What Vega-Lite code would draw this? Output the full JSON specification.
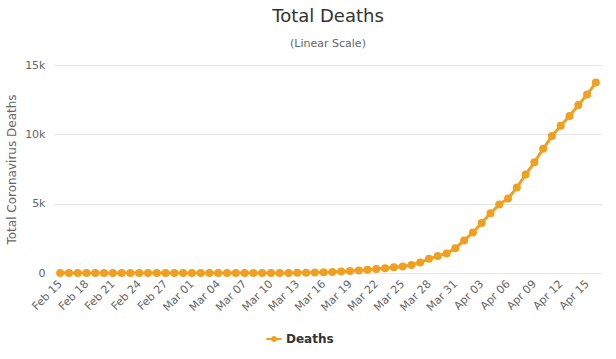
{
  "$schema": "https://vega.github.io/schema/vega-lite/v6.json",
  "width": 548,
  "height": 208,
  "padding": {"left": 5, "top": 8, "right": 10, "bottom": 6},
  "background": "white",
  "title": {
    "text": "Total Deaths",
    "subtitle": "(Linear Scale)",
    "fontSize": 18,
    "font": "DejaVu Sans",
    "fontWeight": "normal",
    "color": "#333333",
    "subtitleFont": "DejaVu Sans",
    "subtitleFontSize": 11,
    "subtitleColor": "#666666",
    "subtitlePadding": 12,
    "offset": 10,
    "anchor": "middle"
  },
  "config": {
    "view": {"stroke": null},
    "font": "DejaVu Sans"
  },
  "data": {
    "values": [
      {"date": "Feb 15", "deaths": 0}, {"date": "Feb 16", "deaths": 0}, {"date": "Feb 17", "deaths": 0},
      {"date": "Feb 18", "deaths": 0}, {"date": "Feb 19", "deaths": 0}, {"date": "Feb 20", "deaths": 0},
      {"date": "Feb 21", "deaths": 0}, {"date": "Feb 22", "deaths": 0}, {"date": "Feb 23", "deaths": 0},
      {"date": "Feb 24", "deaths": 0}, {"date": "Feb 25", "deaths": 0}, {"date": "Feb 26", "deaths": 0},
      {"date": "Feb 27", "deaths": 0}, {"date": "Feb 28", "deaths": 0}, {"date": "Feb 29", "deaths": 0},
      {"date": "Mar 01", "deaths": 0}, {"date": "Mar 02", "deaths": 0}, {"date": "Mar 03", "deaths": 0},
      {"date": "Mar 04", "deaths": 0}, {"date": "Mar 05", "deaths": 1}, {"date": "Mar 06", "deaths": 2},
      {"date": "Mar 07", "deaths": 2}, {"date": "Mar 08", "deaths": 3}, {"date": "Mar 09", "deaths": 4},
      {"date": "Mar 10", "deaths": 6}, {"date": "Mar 11", "deaths": 8}, {"date": "Mar 12", "deaths": 8},
      {"date": "Mar 13", "deaths": 10}, {"date": "Mar 14", "deaths": 21}, {"date": "Mar 15", "deaths": 35},
      {"date": "Mar 16", "deaths": 55}, {"date": "Mar 17", "deaths": 71}, {"date": "Mar 18", "deaths": 104},
      {"date": "Mar 19", "deaths": 144}, {"date": "Mar 20", "deaths": 177}, {"date": "Mar 21", "deaths": 233},
      {"date": "Mar 22", "deaths": 281}, {"date": "Mar 23", "deaths": 335}, {"date": "Mar 24", "deaths": 422},
      {"date": "Mar 25", "deaths": 465}, {"date": "Mar 26", "deaths": 578}, {"date": "Mar 27", "deaths": 759},
      {"date": "Mar 28", "deaths": 1019}, {"date": "Mar 29", "deaths": 1228}, {"date": "Mar 30", "deaths": 1408},
      {"date": "Mar 31", "deaths": 1789}, {"date": "Apr 01", "deaths": 2352}, {"date": "Apr 02", "deaths": 2921},
      {"date": "Apr 03", "deaths": 3605}, {"date": "Apr 04", "deaths": 4313}, {"date": "Apr 05", "deaths": 4934},
      {"date": "Apr 06", "deaths": 5373}, {"date": "Apr 07", "deaths": 6159}, {"date": "Apr 08", "deaths": 7097},
      {"date": "Apr 09", "deaths": 7978}, {"date": "Apr 10", "deaths": 8958}, {"date": "Apr 11", "deaths": 9875},
      {"date": "Apr 12", "deaths": 10612}, {"date": "Apr 13", "deaths": 11329}, {"date": "Apr 14", "deaths": 12107},
      {"date": "Apr 15", "deaths": 12868}, {"date": "Apr 16", "deaths": 13729}
    ]
  },
  "transform": [{"calculate": "'Deaths'", "as": "series"}],
  "mark": {"type": "line", "strokeWidth": 3, "point": {"filled": true, "size": 64, "opacity": 1}},
  "encoding": {
    "x": {
      "field": "date",
      "type": "ordinal",
      "sort": null,
      "scale": {"type": "point", "padding": 0.7},
      "axis": {
        "title": null,
        "values": ["Feb 15", "Feb 18", "Feb 21", "Feb 24", "Feb 27", "Mar 01", "Mar 04", "Mar 07", "Mar 10", "Mar 13", "Mar 16", "Mar 19", "Mar 22", "Mar 25", "Mar 28", "Mar 31", "Apr 03", "Apr 06", "Apr 09", "Apr 12", "Apr 15"],
        "labelAngle": -45,
        "labelAlign": "right",
        "labelBaseline": "middle",
        "labelFontSize": 11,
        "labelColor": "#666666",
        "labelPadding": 9,
        "ticks": false,
        "domain": false,
        "grid": false
      }
    },
    "y": {
      "field": "deaths",
      "type": "quantitative",
      "scale": {"domain": [0, 15000], "nice": false},
      "axis": {
        "title": "Total Coronavirus Deaths",
        "titleFontSize": 12,
        "titleFontWeight": "normal",
        "titleColor": "#666666",
        "titlePadding": 6,
        "values": [0, 5000, 10000, 15000],
        "labelExpr": "datum.value == 0 ? '0' : format(datum.value / 1000, 'd') + 'k'",
        "labelFontSize": 11,
        "labelColor": "#666666",
        "labelPadding": 9,
        "ticks": false,
        "domain": false,
        "gridColor": "#e6e6e6",
        "gridWidth": 1
      }
    },
    "color": {
      "field": "series",
      "type": "nominal",
      "scale": {"range": ["#f0a020"]},
      "legend": {
        "title": null,
        "orient": "none",
        "legendX": 214,
        "legendY": 268,
        "direction": "horizontal",
        "labelFontSize": 12,
        "labelFontWeight": "bold",
        "labelColor": "#333333",
        "labelOffset": 6,
        "symbolType": "M-1.6,-0.2H1.6V0.2H-1.6Z M-0.65,0A0.65,0.65 0 1,1 0.65,0A0.65,0.65 0 1,1 -0.65,0Z",
        "symbolSize": 90,
        "symbolOpacity": 1,
        "encode": {
          "symbols": {
            "update": {
              "fill": {"value": "#f0a020"},
              "stroke": {"value": "#f0a020"},
              "strokeWidth": {"value": 0},
              "opacity": {"value": 1}
            }
          }
        }
      }
    }
  }
}
